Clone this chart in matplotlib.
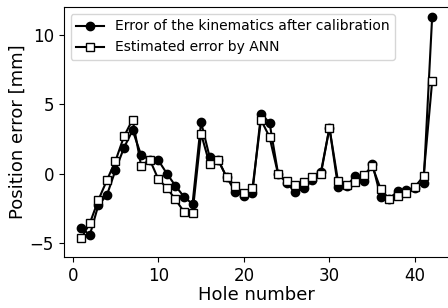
import matplotlib
matplotlib.use("Agg")
import matplotlib.pyplot as plt
import numpy as np

# hole index and position errors [mm]
holes = np.arange(1, 43)
err_calib = [-3.88, -4.43, -2.26, -1.54, 0.25, 1.88, 3.12, 1.33, 1.0, 0.97,
             0.01, -0.87, -1.66, -2.19, 3.72, 1.2, 1.0, -0.27, -1.3, -1.61,
             -1.37, 4.31, 3.67, 0.0, -0.66, -1.33, -1.06, -0.49, 0.1, 3.3,
             -0.94, -0.9, -0.18, -0.51, 0.73, -1.71, -1.8, -1.25, -1.2, -1.0,
             -0.66, 11.3]
err_ann = [-4.65, -3.57, -1.9, -0.47, 0.92, 2.69, 3.9, 0.55, 1.02, -0.39,
           -1.02, -1.85, -2.74, -2.85, 2.88, 0.68, 0.97, -0.27, -0.9, -1.42,
           -1.06, 3.88, 2.64, -0.04, -0.52, -0.82, -0.61, -0.21, -0.02, 3.3,
           -0.54, -0.78, -0.61, -0.11, 0.54, -1.13, -1.83, -1.61, -1.42, -0.94,
           -0.18, 6.65]

fig = plt.figure(figsize=(4.48, 3.08), dpi=100)
ax = fig.add_axes([63.7 / 448, 51 / 308, 386 / 448, 250 / 308])

ax.plot(holes, err_calib, '-o', color='black', lw=1.5, ms=6,
        label='Error of the kinematics after calibration')
ax.plot(holes, err_ann, '-s', color='black', lw=1.5, ms=6,
        mfc='white', mec='black', mew=1.0,
        label='Estimated error by ANN')

ax.set_xlim(-1.05, 44.05)
ax.set_ylim(-6, 12)
ax.set_xticks([0, 10, 20, 30, 40])
ax.set_yticks([-5, 0, 5, 10])
ax.tick_params(labelsize=12)
ax.set_xlabel('Hole number', fontsize=13, labelpad=1)
ax.set_ylabel('Position error [mm]', fontsize=13, labelpad=2)
ax.legend(loc='upper left', fontsize=10)

fig.savefig('out.png', dpi=100)
